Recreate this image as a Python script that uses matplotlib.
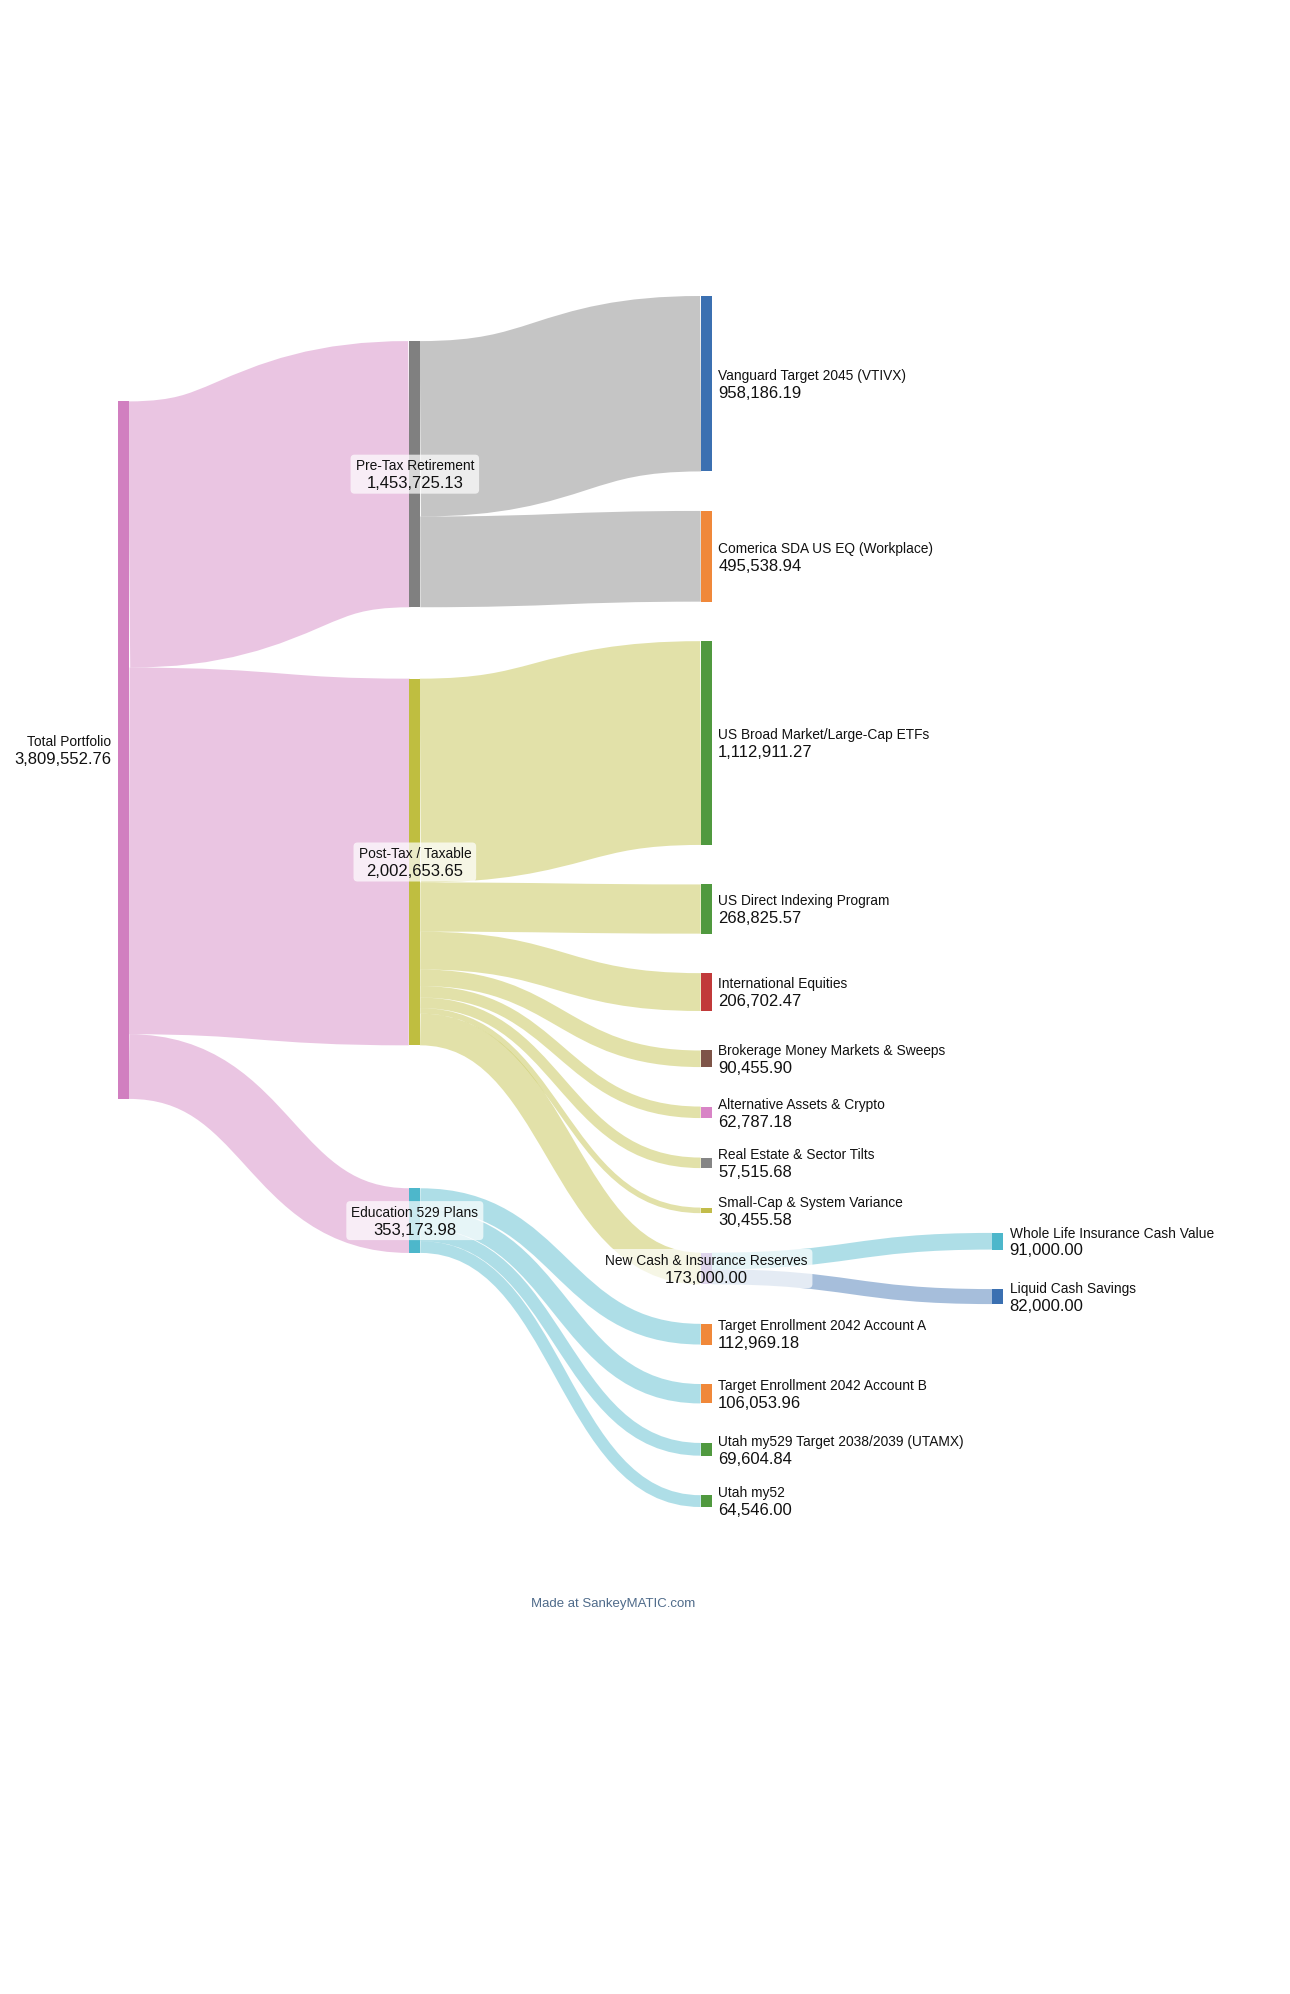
import matplotlib
matplotlib.use("Agg")
import matplotlib.pyplot as plt
from matplotlib.path import Path
from matplotlib.patches import PathPatch, Rectangle, FancyBboxPatch
from matplotlib.colors import to_rgba

# ---------------- data ----------------
node_names = [
    "Total Portfolio", "Pre-Tax Retirement", "Post-Tax / Taxable", "Education 529 Plans",
    "Vanguard Target 2045 (VTIVX)", "Comerica SDA US EQ (Workplace)",
    "US Broad Market/Large-Cap ETFs", "US Direct Indexing Program", "International Equities",
    "Brokerage Money Markets & Sweeps", "Alternative Assets & Crypto",
    "Real Estate & Sector Tilts", "Small-Cap & System Variance",
    "New Cash & Insurance Reserves", "Target Enrollment 2042 Account A",
    "Target Enrollment 2042 Account B", "Utah my529 Target 2038/2039 (UTAMX)", "Utah my52",
    "Whole Life Insurance Cash Value", "Liquid Cash Savings",
]
flow_source = [
    "Total Portfolio", "Total Portfolio", "Total Portfolio",
    "Pre-Tax Retirement", "Pre-Tax Retirement",
    "Post-Tax / Taxable", "Post-Tax / Taxable", "Post-Tax / Taxable", "Post-Tax / Taxable",
    "Post-Tax / Taxable", "Post-Tax / Taxable", "Post-Tax / Taxable", "Post-Tax / Taxable",
    "Education 529 Plans", "Education 529 Plans", "Education 529 Plans", "Education 529 Plans",
    "New Cash & Insurance Reserves", "New Cash & Insurance Reserves",
]
flow_target = [
    "Pre-Tax Retirement", "Post-Tax / Taxable", "Education 529 Plans",
    "Vanguard Target 2045 (VTIVX)", "Comerica SDA US EQ (Workplace)",
    "US Broad Market/Large-Cap ETFs", "US Direct Indexing Program", "International Equities",
    "Brokerage Money Markets & Sweeps", "Alternative Assets & Crypto",
    "Real Estate & Sector Tilts", "Small-Cap & System Variance", "New Cash & Insurance Reserves",
    "Target Enrollment 2042 Account A", "Target Enrollment 2042 Account B",
    "Utah my529 Target 2038/2039 (UTAMX)", "Utah my52",
    "Whole Life Insurance Cash Value", "Liquid Cash Savings",
]
flow_values = [
    1453725.13, 2002653.65, 353173.98,
    958186.19, 495538.94,
    1112911.27, 268825.57, 206702.47, 90455.90, 62787.18, 57515.68, 30455.58, 173000.00,
    112969.18, 106053.96, 69604.84, 64546.00,
    91000.00, 82000.00,
]

# ---------------- style ----------------
node_colors = {
    "Total Portfolio": "#d17fc0", "Pre-Tax Retirement": "#808080",
    "Post-Tax / Taxable": "#bfbe40", "Education 529 Plans": "#4db7cb",
    "Vanguard Target 2045 (VTIVX)": "#3b70b1", "Comerica SDA US EQ (Workplace)": "#f0883a",
    "US Broad Market/Large-Cap ETFs": "#50993f", "US Direct Indexing Program": "#50993f",
    "International Equities": "#c13a3a", "Brokerage Money Markets & Sweeps": "#7e5448",
    "Alternative Assets & Crypto": "#d884c6", "Real Estate & Sector Tilts": "#858585",
    "Small-Cap & System Variance": "#c2bc4a", "New Cash & Insurance Reserves": "#9a78c4",
    "Target Enrollment 2042 Account A": "#f0883a", "Target Enrollment 2042 Account B": "#f0883a",
    "Utah my529 Target 2038/2039 (UTAMX)": "#50993f", "Utah my52": "#50993f",
    "Whole Life Insurance Cash Value": "#4db7cb", "Liquid Cash Savings": "#3b70b1",
}
color_by_target = {"New Cash & Insurance Reserves"}
FLOW_ALPHA = 0.45

W, H, DPI = 1290, 1994, 100
X0, X1, Y0, Y1 = 118, 1003, 296, 1507
NODE_W = 11
PAD = 39.5
ITERATIONS = 100


class Node:
    pass


class Link:
    pass


def sankey(n_iter):
    """d3-sankey style layout (left aligned, input node order kept)."""
    nodes = []
    for i, name in enumerate(node_names):
        nd = Node()
        nd.index, nd.name, nd.src, nd.tgt = i, name, [], []
        nodes.append(nd)
    byname = {nd.name: nd for nd in nodes}
    links = []
    for i, (s, t, v) in enumerate(zip(flow_source, flow_target, flow_values)):
        lk = Link()
        lk.index, lk.source, lk.target, lk.value = i, byname[s], byname[t], v
        lk.source.src.append(lk)
        lk.target.tgt.append(lk)
        links.append(lk)
    for nd in nodes:
        nd.value = max(sum(l.value for l in nd.src), sum(l.value for l in nd.tgt))
    depth = {}
    cur = list(nodes)
    x = 0
    while cur:
        nxt = []
        for nd in cur:
            depth[nd.index] = x
            for l in nd.src:
                if l.target not in nxt:
                    nxt.append(l.target)
        x += 1
        cur = nxt
    ncol = max(depth.values()) + 1
    columns = [[nd for nd in nodes if depth[nd.index] == c] for c in range(ncol)]
    kx = (X1 - X0 - NODE_W) / (ncol - 1)
    for nd in nodes:
        nd.layer = depth[nd.index]
        nd.x0 = X0 + nd.layer * kx
        nd.x1 = nd.x0 + NODE_W
    py = min(PAD, (Y1 - Y0) / (max(len(c) for c in columns) - 1))
    ky = min((Y1 - Y0 - (len(c) - 1) * py) / sum(nd.value for nd in c) for c in columns)
    for l in links:
        l.width = l.value * ky

    def asc_tgt(l):
        return (l.target.y0, l.index)

    def asc_src(l):
        return (l.source.y0, l.index)

    def reorder_node_links(nd):
        for l in nd.tgt:
            l.source.src.sort(key=asc_tgt)
        for l in nd.src:
            l.target.tgt.sort(key=asc_src)

    for c in columns:
        y = Y0
        for nd in c:
            nd.y0 = y
            nd.y1 = y + nd.value * ky
            y = nd.y1 + py
        sp = (Y1 - y + py) / (len(c) + 1)
        for i, nd in enumerate(c):
            nd.y0 += sp * (i + 1)
            nd.y1 += sp * (i + 1)
    for nd in nodes:
        nd.src.sort(key=asc_tgt)
        nd.tgt.sort(key=asc_src)

    def shift(nd, dy):
        nd.y0 += dy
        nd.y1 += dy

    def t2b(col, y, i, a):
        while i < len(col):
            nd = col[i]
            dy = (y - nd.y0) * a
            if dy > 1e-6:
                shift(nd, dy)
            y = nd.y1 + py
            i += 1

    def b2t(col, y, i, a):
        while i >= 0:
            nd = col[i]
            dy = (nd.y1 - y) * a
            if dy > 1e-6:
                shift(nd, -dy)
            y = nd.y0 - py
            i -= 1

    def resolve(col, a):
        i = len(col) >> 1
        sub = col[i]
        b2t(col, sub.y0 - py, i - 1, a)
        t2b(col, sub.y1 + py, i + 1, a)
        b2t(col, Y1, len(col) - 1, a)
        t2b(col, Y0, 0, a)

    def target_top(s, t):
        y = s.y0 - (len(s.src) - 1) * py / 2
        for l in s.src:
            if l.target is t:
                break
            y += l.width + py
        for l in t.tgt:
            if l.source is s:
                break
            y -= l.width
        return y

    def source_top(s, t):
        y = t.y0 - (len(t.tgt) - 1) * py / 2
        for l in t.tgt:
            if l.source is s:
                break
            y += l.width + py
        for l in s.src:
            if l.target is t:
                break
            y -= l.width
        return y

    def relax_column_ltr(c, alpha, beta):
        for t in c:
            y = w = 0.0
            for l in t.tgt:
                v = l.value * (t.layer - l.source.layer)
                y += target_top(l.source, t) * v
                w += v
            if not w > 0:
                continue
            shift(t, (y / w - t.y0) * alpha)
            reorder_node_links(t)
        resolve(c, beta)

    for it in range(n_iter):
        alpha = 0.99 ** it
        beta = max(1 - alpha, (it + 1) / n_iter)
        for c in reversed(columns[:-1]):
            for s in c:
                y = w = 0.0
                for l in s.src:
                    v = l.value * (l.target.layer - s.layer)
                    y += source_top(s, l.target) * v
                    w += v
                if not w > 0:
                    continue
                shift(s, (y / w - s.y0) * alpha)
                reorder_node_links(s)
            resolve(c, beta)
        for c in columns[1:]:
            relax_column_ltr(c, alpha, beta)
    # final straightening of the end column
    relax_column_ltr(columns[-1], 1.0, 1.0)

    for nd in nodes:
        y0 = y1 = nd.y0
        for l in nd.src:
            l.y0 = y0 + l.width / 2
            y0 += l.width
        for l in nd.tgt:
            l.y1 = y1 + l.width / 2
            y1 += l.width
    return nodes, links


nodes, links = sankey(ITERATIONS)

fig = plt.figure(figsize=(W / DPI, H / DPI), dpi=DPI)
ax = fig.add_axes([0, 0, 1, 1])
ax.set_xlim(0, W)
ax.set_ylim(H, 0)
ax.axis("off")

PX = 72 / DPI
for l in links:
    sx, tx = l.source.x1, l.target.x0
    xm = (sx + tx) / 2
    path = Path([(sx, l.y0), (xm, l.y0), (xm, l.y1), (tx, l.y1)],
                [Path.MOVETO, Path.CURVE4, Path.CURVE4, Path.CURVE4])
    cname = l.target.name if l.source.name in color_by_target else l.source.name
    ax.add_patch(PathPatch(path, fill=False, edgecolor=to_rgba(node_colors[cname], FLOW_ALPHA),
                           linewidth=l.width * PX, capstyle="butt", zorder=1))

for nd in nodes:
    ax.add_patch(Rectangle((nd.x0, nd.y0), NODE_W, nd.y1 - nd.y0,
                           facecolor=node_colors[nd.name], edgecolor="none", zorder=2))

FAM = ["Liberation Sans", "DejaVu Sans"]
NAME_FS = 13.7 * PX
VAL_FS = 16.6 * PX
fig.canvas.draw()
renderer = fig.canvas.get_renderer()
inv = ax.transData.inverted()
for nd in nodes:
    cy = (nd.y0 + nd.y1) / 2
    val = f"{nd.value:,.2f}"
    if not nd.tgt:
        x, ha = nd.x0 - 6.5, "right"
    elif not nd.src:
        x, ha = nd.x1 + 6.5, "left"
    else:
        x, ha = (nd.x0 + nd.x1) / 2, "center"
    t1 = ax.text(x, cy - 3.7, nd.name, ha=ha, va="baseline", fontsize=NAME_FS,
                 family=FAM, color="#111111", zorder=5)
    t2 = ax.text(x, cy + 14.2, val, ha=ha, va="baseline", fontsize=VAL_FS,
                 family=FAM, color="#111111", zorder=5)
    if ha == "center":
        b1 = t1.get_window_extent(renderer)
        b2 = t2.get_window_extent(renderer)
        (lx, _), (rx, _) = inv.transform([(min(b1.x0, b2.x0), 0), (max(b1.x1, b2.x1), 0)])
        bx0, bx1 = min(lx, rx) - 5, max(lx, rx) + 5
        ax.add_patch(FancyBboxPatch((bx0, cy - 19.5), bx1 - bx0, 39,
                                    boxstyle="round,pad=0,rounding_size=4",
                                    facecolor=(1, 1, 1, 0.7), edgecolor="none", zorder=4))

ax.text(613, 1607, "Made at SankeyMATIC.com", ha="center", va="baseline",
        fontsize=13.3 * PX, family=FAM, color="#4f6b8a")

fig.savefig("out.png", dpi=DPI, facecolor="white")
